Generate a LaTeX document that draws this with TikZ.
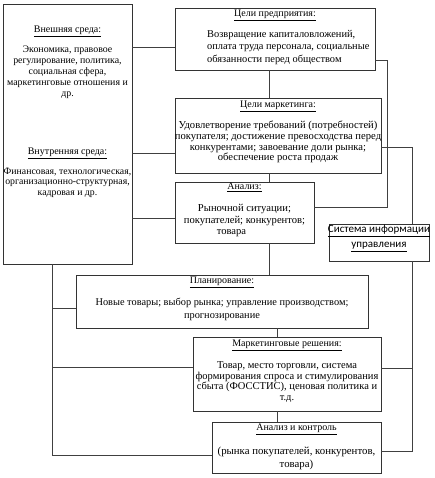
\documentclass[tikz,border=0pt]{standalone}
\usepackage{fontspec}
\setmainfont{Liberation Serif}
\newfontfamily\sysfont{Carlito}
\usetikzlibrary{fit}
\begin{document}
\begin{tikzpicture}[x=1pt,y=-1pt,
  box/.style={draw=black!80, line width=0.6pt, inner sep=0pt},
  ln/.style={draw=black!75, line width=0.6pt},
  ttl/.style={inner sep=0pt, font=\rmfamily\fontsize{10}{12}\selectfont},
  body/.style 2 args={inner sep=0pt, align=center, font=\rmfamily\fontsize{#1}{#2}\selectfont}]
\useasboundingbox (0,0) rectangle (434,478);
% boxes
\node[box, fit={(3,4) (132,264)}] (L) {};
\node[box, fit={(175,8) (375,70)}] (g1) {};
\node[box, fit={(175,98) (381,173)}] (g2) {};
\node[box, fit={(175,182) (314,243)}] (g3) {};
\node[box, fit={(329,224) (429,261)}] (sys) {};
\node[box, fit={(76,275) (368,328)}] (plan) {};
\node[box, fit={(193,337) (381,411)}] (mr) {};
\node[box, fit={(212,422) (381,473)}] (ak) {};
% texts
\node[ttl] (tL1) at (67.5,31) {\underline{Внешняя среда:}};
\node[body={9.9}{11}] (bL1) at (67.5,72) {Экономика, правовое\\регулирование, политика,\\социальная сфера,\\маркетинговые отношения и\\др.};
\node[ttl] (tL2) at (67.5,153) {\underline{Внутренняя среда:}};
\node[body={9.8}{10.6}] (bL2) at (67.5,182.5) {Финансовая, технологическая,\\организационно-структурная,\\кадровая и др.};
\node[ttl] (t1) at (275,15) {\underline{Цели предприятия:}};
\node[body={10.4}{12.7}, align=left, anchor=west] (b1) at (207,47.3) {Возвращение капиталовложений,\\оплата труда персонала, социальные\\обязанности перед обществом};
\node[ttl] (t2) at (278,106) {\underline{Цели маркетинга:}};
\node[body={10.6}{10.7}] (b2) at (278,142) {Удовлетворение требований (потребностей)\\покупателя; достижение превосходства перед\\конкурентами; завоевание доли рынка;\\обеспечение роста продаж};
\node[ttl] (t3) at (244.5,187) {\underline{Анализ:}};
\node[body={10.6}{11.5}] (b3) at (244.5,220.5) {Рыночной ситуации;\\покупателей; конкурентов;\\товара\hspace*{26pt}};
\node[ttl, font=\sysfont\fontsize{11}{12}\selectfont] (ts1) at (379,231) {\underline{Система информации}};
\node[ttl, font=\sysfont\fontsize{11}{12}\selectfont] (ts2) at (379,247) {\underline{управления}};
\node[ttl] (tp) at (222,282) {\underline{Планирование:}};
\node[body={10.35}{13}] (bp) at (222,309.5) {Новые товары; выбор рынка; управление производством;\\прогнозирование};
\node[ttl] (tm) at (287,345) {\underline{Маркетинговые решения:}};
\node[body={10.5}{10.7}] (bm) at (287,382) {Товар, место торговли, система\\формирования спроса и стимулирования\\сбыта (ФОССТИС), ценовая политика и\\т.д.};
\node[ttl] (ta) at (296.5,429) {\underline{Анализ и контроль}};
\node[body={10.8}{13}] (ba) at (296.5,458.5) {(рынка покупателей, конкурентов,\\товара)};
% connectors
\draw[ln] (L.east |- 0,47) -- (g1.west |- 0,47);
\draw[ln] (L.east |- 0,153) -- (g2.west |- 0,153);
\draw[ln] (L.east |- 0,218) -- (g3.west |- 0,218);
\draw[ln] (g1.south -| 269,0) -- (g2.north -| 269,0);
\draw[ln] (g2.south -| 269,0) -- (g3.north -| 269,0);
\draw[ln] (g3.south -| 269,0) -- (plan.north -| 269,0);
\draw[ln] (plan.south -| 277,0) -- (mr.north -| 277,0);
\draw[ln] (mr.south -| 277,0) -- (ak.north -| 277,0);
\draw[ln] (g1.east |- 0,60) -- ++(12,0) |- (g3.east |- 0,207);
\draw[ln] (g2.east |- 0,147) -| (sys.north -| 412,0);
\draw[ln] (sys.south -| 412,0) |- (ak.east |- 0,451);
\draw[ln] (mr.east |- 0,368) -- ++(31,0);
\draw[ln] (L.south -| 52,0) |- (ak.west |- 0,455);
\draw[ln] (plan.west |- 0,308) -- ++(-24,0);
\draw[ln] (mr.west |- 0,367) -- ++(-141,0);
\end{tikzpicture}
\end{document}
